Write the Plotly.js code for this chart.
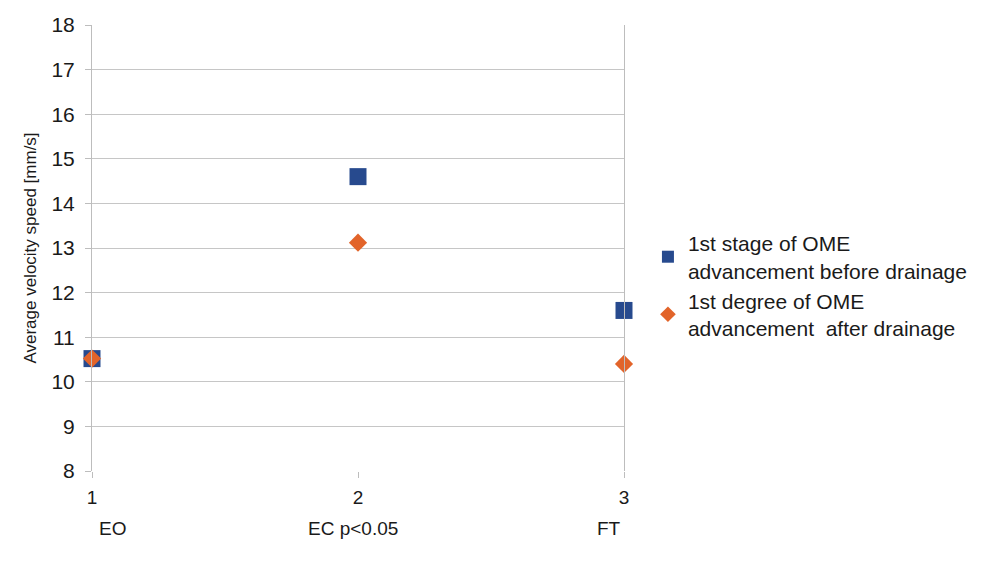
<!DOCTYPE html>
<html>
<head>
<meta charset="utf-8">
<script src="https://cdn.plot.ly/plotly-3.0.1.min.js"></script>
<style>html,body{margin:0;padding:0;background:#fff;}#chart{width:988px;height:567px;}</style>
</head>
<body>
<div id="chart"></div>
<script>
// Data
var xPositions = [1, 2, 3];
var categoryLabels = ["EO", "EC p<0.05", "FT"];
var beforeDrainage = [10.52, 14.6, 11.6];
var afterDrainage = [10.52, 13.12, 10.4];
var seriesNames = [
  "1st stage of OME<br>advancement before drainage",
  "1st degree of OME<br>advancement\u00a0 after drainage"
];
var yTicks = [8, 9, 10, 11, 12, 13, 14, 15, 16, 17, 18];

var font = "Liberation Sans, Arial, sans-serif";

var traces = [
  {
    x: xPositions, y: beforeDrainage, name: seriesNames[0],
    type: "scatter", mode: "markers", cliponaxis: false,
    marker: {symbol: "square", size: 17, color: "#274a8e"}
  },
  {
    x: xPositions, y: afterDrainage, name: seriesNames[1],
    type: "scatter", mode: "markers", cliponaxis: false,
    marker: {symbol: "diamond", size: 14, color: "#e2642a"}
  }
];

var annotations = categoryLabels.map(function (t, i) {
  var anchors = ["left", "center", "right"];
  var shifts = [5, -5, -1];
  return {
    text: t, x: xPositions[i], xref: "x", y: -0.128, yref: "paper",
    xanchor: anchors[i], yanchor: "middle", xshift: shifts[i],
    showarrow: false, font: {family: font, size: 19, color: "#1a1a1a"}
  };
});

var layout = {
  width: 988, height: 567,
  margin: {l: 92, r: 364, t: 25, b: 96},
  paper_bgcolor: "#ffffff", plot_bgcolor: "#ffffff",
  showlegend: true,
  legend: {
    x: 1.045, xanchor: "left", y: 0.415, yanchor: "middle",
    font: {family: font, size: 21, color: "#1a1a1a"},
    itemsizing: "constant", tracegroupgap: 4
  },
  xaxis: {
    range: [1, 3], tickvals: xPositions, ticktext: ["1", "2", "3"],
    showgrid: false, zeroline: false, showline: false,
    ticks: "outside", ticklen: 6, tickcolor: "#bdbdbd",
    ticklabelstandoff: 3,
    tickfont: {family: font, size: 19, color: "#1a1a1a"},
    fixedrange: true
  },
  yaxis: {
    range: [8, 18], tickvals: yTicks,
    showgrid: true, gridcolor: "#c6c6c6", gridwidth: 1,
    zeroline: false, showline: true, linecolor: "#bdbdbd", mirror: true,
    ticks: "outside", ticklen: 6, tickcolor: "#bdbdbd",
    ticklabelstandoff: 6,
    tickfont: {family: font, size: 21, color: "#1a1a1a"},
    title: {text: "Average velocity speed [mm/s]", standoff: 10,
            font: {family: font, size: 17, color: "#1a1a1a"}},
    fixedrange: true
  },
  annotations: annotations
};

Plotly.newPlot("chart", traces, layout, {displayModeBar: false, staticPlot: true});
</script>
</body>
</html>
